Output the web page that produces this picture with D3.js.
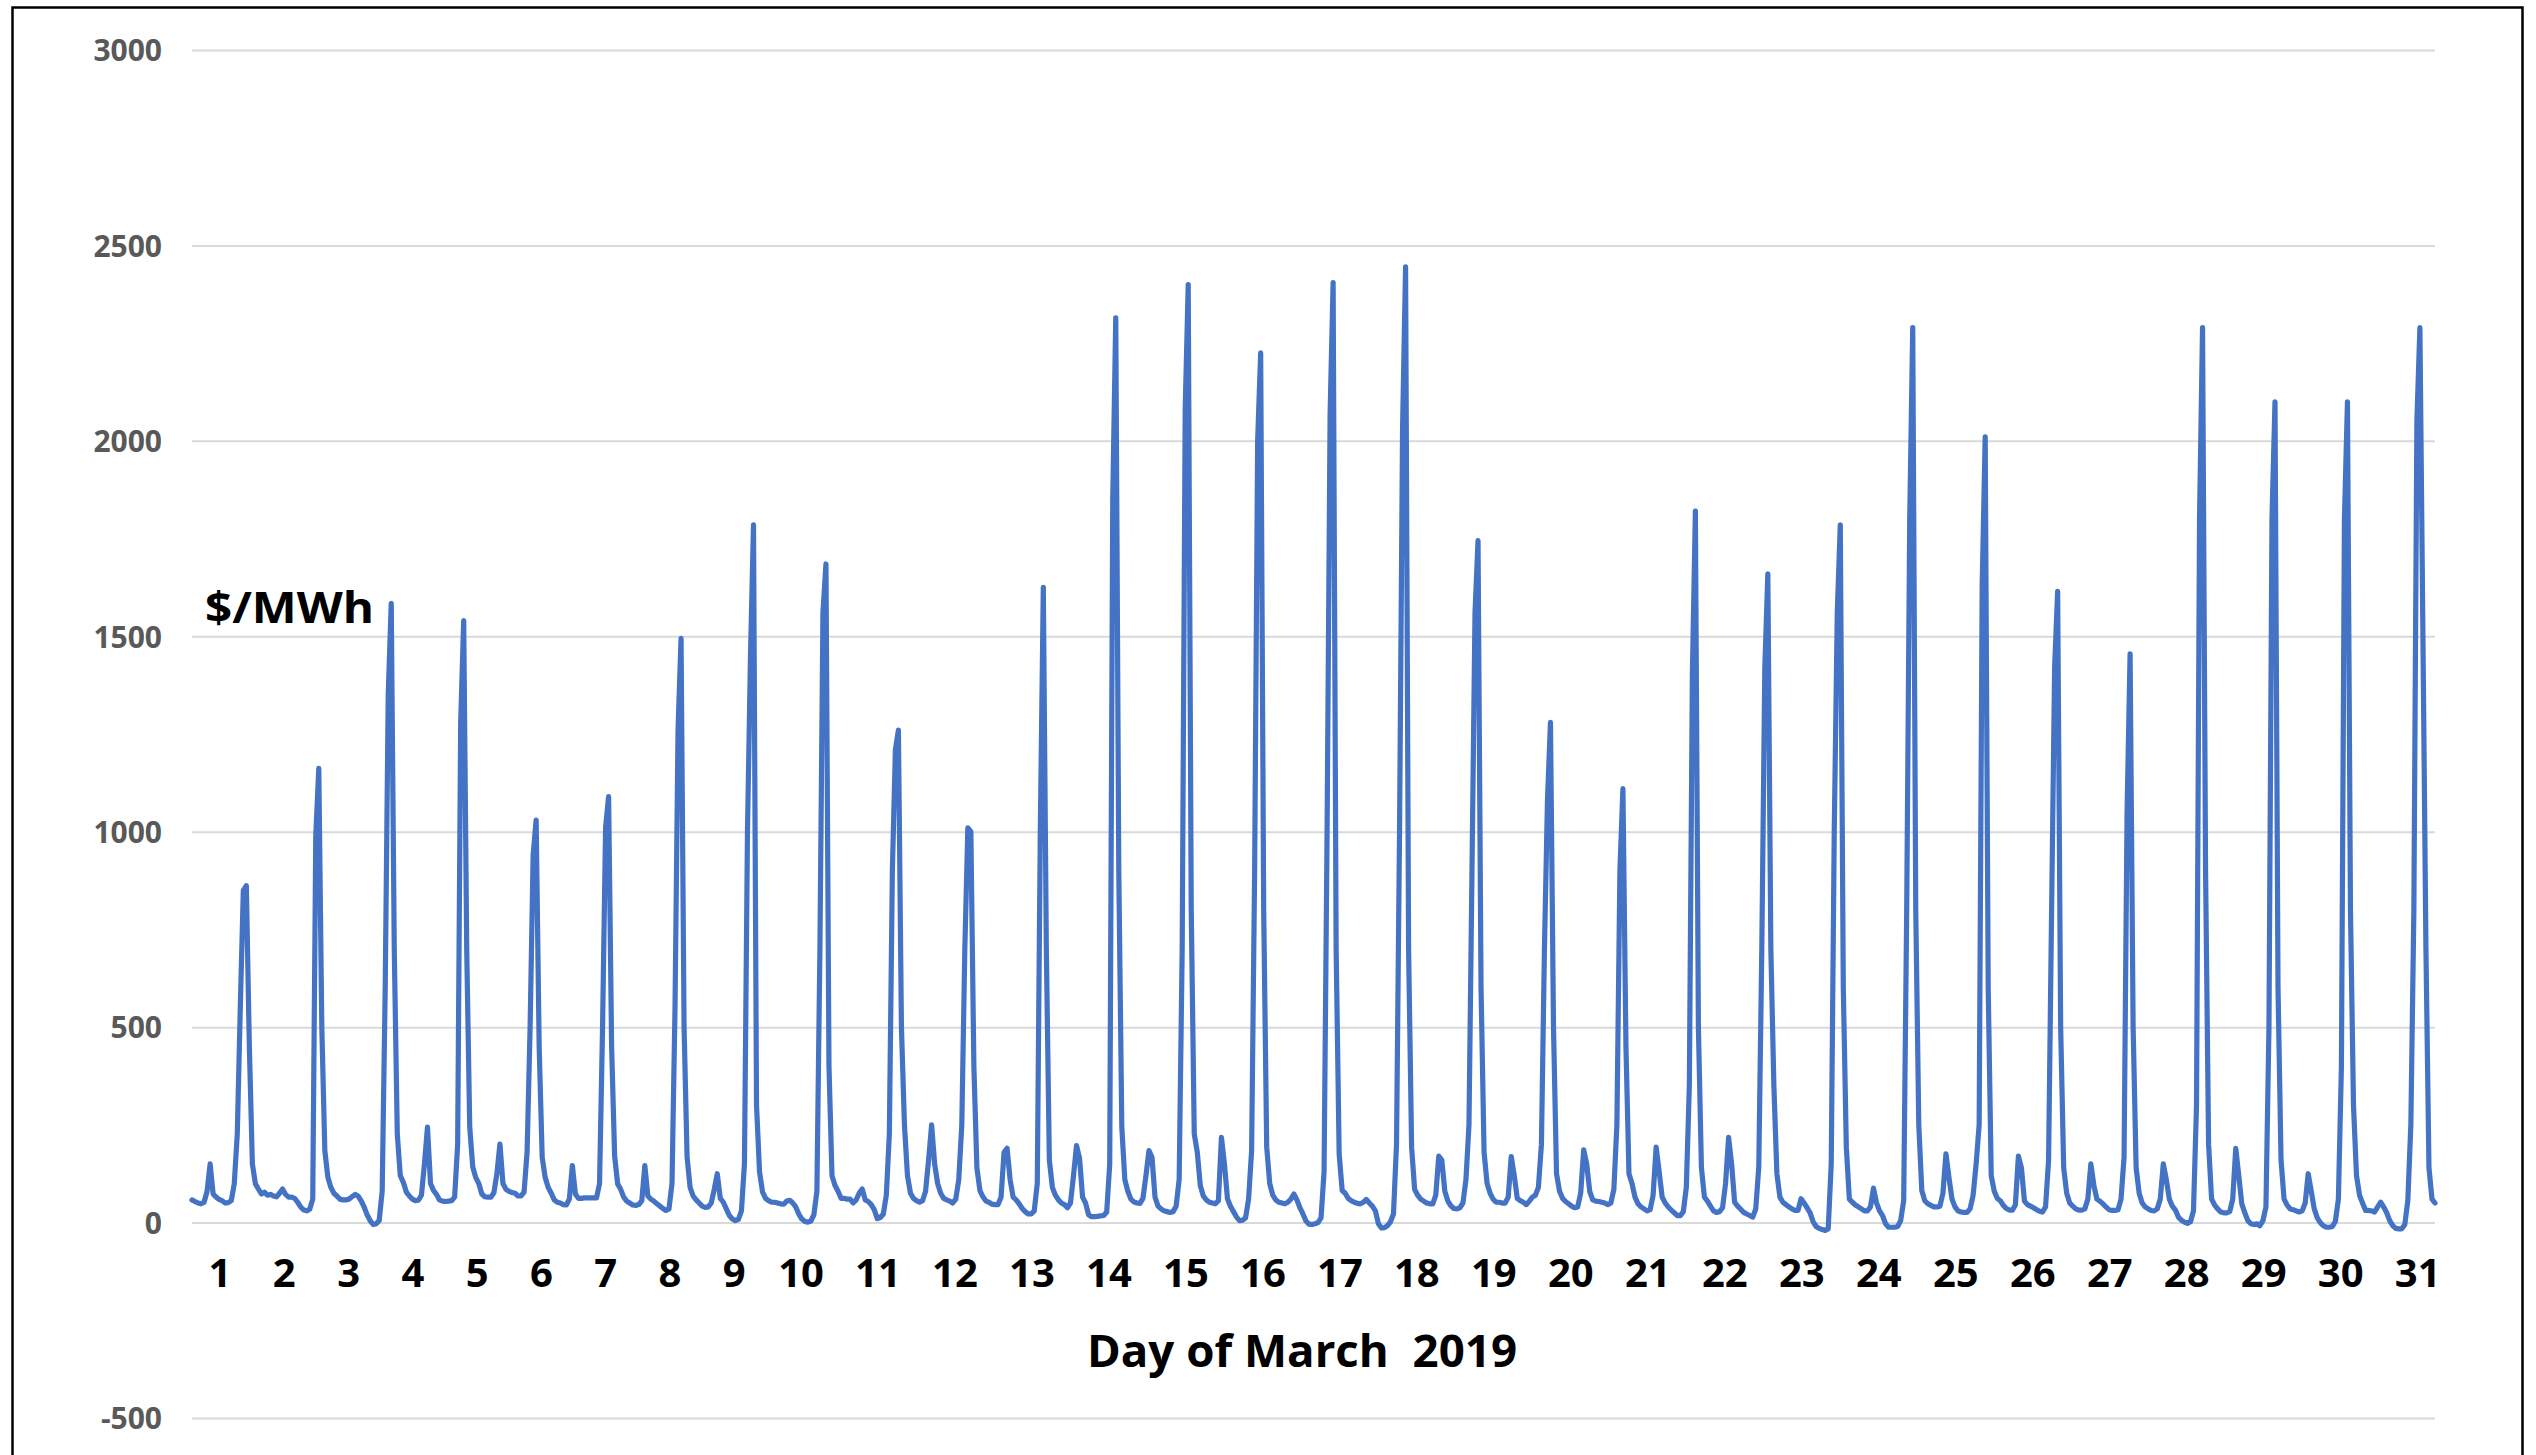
<!DOCTYPE html>
<html><head><meta charset="utf-8">
<script src="https://cdn.jsdelivr.net/npm/d3@7"></script>
<style>html,body{margin:0;padding:0;background:#fff;} svg{display:block;}</style>
</head><body>
<svg id="chart" width="2536" height="1455"></svg>
<script>
// ---- data ----
const dayLabels = d3.range(1, 32).map(String);
const yTickValues = [-500, 0, 500, 1000, 1500, 2000, 2500, 3000];
const unitLabel = "$/MWh";
const axisTitle = "Day of March  2019";
// hourly prices ($/MWh), one row of 24 hours per day of March 2019
const hourlyPrices = [
  [58,54,50,48,52,80,150,73,65,59,56,50,51,56,99,227,550,850,862,450,150,99,86,73],
  [78,70,72,68,66,75,86,72,65,65,62,52,40,32,30,34,60,990,1162,500,184,116,90,75],
  [68,60,58,58,60,66,72,68,56,40,20,5,-5,-3,5,80,600,1350,1584,700,227,120,103,78],
  [68,60,56,57,70,150,244,100,82,72,58,55,54,55,56,65,200,1280,1540,700,244,142,115,100],
  [73,66,65,65,76,125,201,100,85,80,77,75,68,68,78,180,500,940,1030,450,167,115,90,75],
  [58,52,50,46,45,60,146,73,62,62,63,63,63,63,63,100,500,1010,1090,450,170,99,85,65],
  [55,50,45,44,46,56,146,68,60,55,48,42,36,31,35,100,550,1260,1495,500,167,90,68,58],
  [50,42,39,40,50,85,125,62,52,35,18,9,5,8,30,150,1000,1450,1785,300,130,78,62,56],
  [52,52,50,48,47,55,57,50,40,22,9,3,1,4,20,80,700,1560,1685,400,120,95,80,62],
  [62,60,60,50,58,75,86,58,54,46,33,10,13,22,70,227,900,1210,1260,500,250,120,75,62],
  [56,52,56,80,160,250,150,100,75,62,58,55,50,60,110,250,700,1010,1000,400,140,82,66,55],
  [52,47,46,46,65,180,190,110,65,58,48,36,28,22,22,30,100,1000,1625,700,160,90,70,58],
  [50,46,38,50,120,197,165,65,50,20,15,15,16,17,18,27,150,1850,2315,900,244,110,80,60],
  [53,50,49,62,120,184,167,65,42,35,30,28,26,28,42,110,700,2080,2400,800,227,180,95,68],
  [58,52,50,48,56,218,150,61,42,28,14,5,6,12,60,184,900,2000,2225,800,193,100,70,58],
  [52,50,48,52,60,73,58,38,22,4,-4,-5,-3,0,12,130,1000,2070,2405,700,175,82,75,62],
  [56,52,49,48,52,59,50,42,30,-3,-14,-13,-8,2,22,200,1000,2030,2445,700,193,85,70,60],
  [55,50,48,48,70,170,160,80,55,43,36,35,38,50,110,250,900,1560,1745,600,180,100,75,60],
  [52,52,50,50,65,169,120,62,56,52,46,55,65,70,90,200,700,1080,1280,500,125,80,62,54],
  [48,42,38,40,75,186,150,80,58,55,54,52,50,46,50,85,250,900,1110,450,125,100,65,48],
  [40,35,30,33,70,193,130,65,50,40,32,25,18,18,28,90,350,1400,1820,500,140,65,55,42],
  [30,26,28,38,100,218,150,52,42,34,26,22,18,14,35,142,700,1420,1660,700,350,125,65,52],
  [46,40,35,31,31,61,50,38,25,2,-10,-15,-18,-20,-16,150,1000,1560,1785,600,193,60,52,45],
  [40,35,30,30,40,88,50,30,18,-3,-12,-12,-12,-10,5,56,800,1800,2290,800,250,82,56,48],
  [44,40,40,42,75,176,115,60,40,30,27,26,26,35,70,150,250,1630,2010,600,120,80,62,56],
  [44,36,32,32,45,170,140,55,46,42,38,33,29,27,40,160,800,1420,1615,500,140,75,50,42],
  [35,32,32,35,60,150,95,60,55,48,40,33,31,31,33,60,167,1050,1455,500,140,75,50,40],
  [35,31,30,35,60,150,110,60,42,32,14,6,1,-2,2,30,300,1800,2290,900,200,60,45,35],
  [27,25,25,28,60,190,120,48,25,5,-3,-5,-3,-8,5,40,500,1800,2100,600,160,60,45,35],
  [33,30,27,30,50,125,80,35,12,0,-8,-12,-12,-10,3,60,400,1800,2100,800,300,120,70,50],
  [31,31,30,27,40,52,40,25,5,-8,-15,-16,-16,-5,56,250,800,2050,2290,1500,700,140,60,50]
];

// ---- layout ----
const W = 2536, H = 1455;
const plotLeft = 192, plotRight = 2435;
const svg = d3.select("#chart");
svg.append("rect").attr("width", W).attr("height", H).attr("fill", "#fff");
svg.append("rect").attr("x", 12.5).attr("y", 7.5).attr("width", 2510).attr("height", 1480)
  .attr("fill", "none").attr("stroke", "#000").attr("stroke-width", 2.5);

const values = hourlyPrices.flat();
const x = d3.scaleLinear().domain([0, values.length - 1]).range([plotLeft, plotRight]);
const y = d3.scaleLinear().domain([-500, 3000]).range([1418, 50]);

const yAxis = d3.axisLeft(y).tickValues(yTickValues).tickFormat(d => String(d))
  .tickSize(-(plotRight - plotLeft)).tickPadding(30);
const gy = svg.append("g").attr("transform", `translate(${plotLeft},0)`).call(yAxis);
gy.select(".domain").remove();
gy.selectAll(".tick line").attr("stroke", "#d9d9d9").attr("stroke-width", 2);
gy.selectAll(".tick text")
  .attr("font-family", "'Open Sans', sans-serif").attr("font-weight", 700)
  .attr("font-size", 30).attr("fill", "#595959").attr("dy", "0.36em");

const line = d3.line().x((d, i) => x(i)).y(d => y(d)).curve(d3.curveLinear);
svg.append("path").datum(values).attr("d", line)
  .attr("fill", "none").attr("stroke", "#4472C4").attr("stroke-width", 5.2)
  .attr("stroke-linejoin", "round").attr("stroke-linecap", "round");

// day labels (typed label row under the plot)
const xLabel = d3.scaleLinear().domain([1, 9, 10, 31]).range([220, 734.3, 801, 2417.7]);
svg.append("g").selectAll("text").data(dayLabels).join("text")
  .attr("x", d => xLabel(+d)).attr("y", 1287).attr("text-anchor", "middle")
  .attr("font-family", "'Open Sans', sans-serif").attr("font-weight", 700)
  .attr("font-size", 40).attr("fill", "#000").text(d => d);

svg.append("text").attr("x", 1087).attr("y", 1367)
  .attr("font-family", "'Open Sans', sans-serif").attr("font-weight", 700)
  .attr("font-size", 45).attr("fill", "#000")
  .attr("textLength", 430).attr("lengthAdjust", "spacingAndGlyphs")
  .style("white-space", "pre").text(axisTitle);

svg.append("text").attr("x", 205).attr("y", 623)
  .attr("font-family", "'Open Sans', sans-serif").attr("font-weight", 700)
  .attr("font-size", 43).attr("fill", "#000")
  .attr("textLength", 169).attr("lengthAdjust", "spacingAndGlyphs")
  .text(unitLabel);
</script>
</body></html>
